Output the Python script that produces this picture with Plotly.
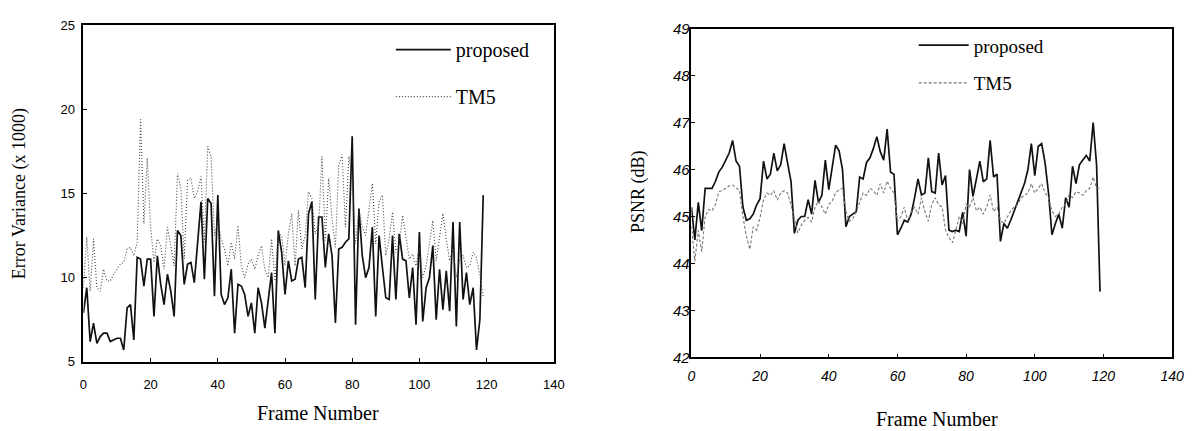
import plotly.graph_objects as go

frames = list(range(120))

# Left chart: Error Variance (x 1000)
ev_proposed = [
    7.9, 9.4, 6.2, 7.3, 6.1, 6.5, 6.7, 6.7, 6.2, 6.3,
    6.4, 6.4, 5.7, 8.2, 8.4, 6.3, 11.2, 11.1, 9.5, 11.1,
    11.1, 7.7, 11.3, 9.6, 8.4, 10.2, 9.2, 7.7, 12.8, 12.5,
    9.6, 10.8, 10.9, 9.7, 12.1, 14.5, 9.9, 14.7, 14.4, 8.9,
    14.9, 9.0, 8.4, 8.8, 10.5, 6.7, 9.6, 9.5, 9.0, 7.7,
    8.5, 6.7, 9.4, 8.5, 7.0, 8.5, 10.3, 6.7, 12.8, 11.5,
    9.0, 11.0, 9.8, 9.9, 11.1, 11.2, 9.4, 13.8, 14.5, 8.7,
    13.6, 13.6, 10.6, 12.6, 11.3, 7.3, 11.7, 11.8, 12.1, 12.3,
    18.4, 7.2, 14.1, 11.3, 10.0, 10.6, 13.0, 7.7, 12.5, 10.6,
    8.8, 8.7, 12.5, 8.7, 12.6, 11.1, 11.0, 8.8, 10.6, 7.2,
    12.7, 7.4, 9.4, 10.0, 11.9, 7.5, 10.5, 8.1, 10.4, 8.0,
    13.3, 7.1, 13.3, 8.7, 10.3, 8.4, 9.4, 5.7, 7.5, 14.9,
]
ev_tm5 = [
    9.4, 12.4, 9.2, 12.3, 9.4, 9.2, 10.5, 9.8, 9.8, 10.2,
    10.5, 10.8, 10.9, 11.7, 11.8, 11.3, 12.1, 19.4, 13.2, 17.1,
    13.0, 10.9, 12.3, 11.9, 10.5, 13.0, 11.9, 10.7, 16.2, 15.3,
    11.1, 15.8, 15.9, 14.7, 15.1, 16.0, 12.1, 17.8, 17.2, 12.5,
    13.4, 12.3, 11.7, 10.7, 12.1, 11.1, 13.1, 10.7, 10.0, 10.8,
    11.1, 10.5, 11.3, 11.9, 10.5, 10.0, 12.3, 9.8, 12.6, 12.5,
    10.7, 12.6, 13.8, 10.7, 14.0, 11.7, 12.5, 15.1, 14.7, 12.6,
    13.0, 17.2, 12.2, 15.9, 13.5, 11.8, 16.7, 17.3, 13.0, 17.2,
    16.0, 12.0, 14.0, 13.0, 12.5, 14.0, 15.6, 12.0, 14.5, 14.9,
    11.3, 12.3, 13.9, 11.5, 12.0, 13.7, 12.5, 11.1, 11.4, 10.7,
    11.8, 10.0, 10.7, 12.1, 13.4, 11.0, 12.4, 13.8, 12.3, 11.0,
    11.7, 10.0, 11.1, 11.3, 10.6, 10.7, 11.5, 11.2, 10.1, 8.9,
]

# Right chart: PSNR (dB)
psnr_proposed = [
    45.2, 44.5, 45.3, 44.7, 45.6, 45.6, 45.6, 45.75, 45.95, 46.05,
    46.2, 46.35, 46.62, 46.18, 46.07, 45.2, 44.92, 44.95, 45.05, 45.25,
    45.38, 46.18, 45.8, 45.9, 46.35, 45.97, 46.1, 46.55, 46.14, 45.75,
    44.64, 44.92, 45.0, 45.0, 45.36, 45.05, 45.77, 45.3, 45.45, 46.2,
    45.57, 46.1, 46.52, 46.4, 46.0, 44.78, 45.0, 45.05, 45.1, 45.84,
    45.8, 46.15, 46.25, 46.45, 46.7, 46.38, 46.2, 46.86, 45.94, 45.9,
    44.61, 44.75, 44.92, 44.88, 45.05, 45.4, 45.8, 45.46, 45.5, 46.25,
    45.53, 45.5, 46.35, 45.67, 45.87, 44.71, 44.68, 44.71, 44.68, 45.09,
    44.58, 46.0, 45.43, 45.8, 46.18, 45.74, 45.8, 46.62, 45.84, 45.9,
    44.47, 44.85, 44.75, 44.92, 45.12, 45.33, 45.5, 45.7, 46.0, 46.55,
    45.87, 46.49, 46.55, 46.14, 45.5, 44.61, 44.85, 45.05, 44.75, 45.4,
    45.2, 46.07, 45.7, 46.1, 46.2, 46.3, 46.18, 47.0, 46.1, 43.4,
]
psnr_tm5 = [
    44.8, 44.05, 44.7, 44.25, 45.0, 45.15, 45.12, 45.26, 45.53, 45.55,
    45.6, 45.65, 45.67, 45.6, 45.55, 45.0, 44.58, 44.3, 44.78, 44.71,
    44.98, 45.36, 45.5, 45.45, 45.55, 45.35, 45.5, 45.55, 45.5, 45.25,
    44.92, 44.65, 44.82, 44.92, 44.98, 44.88, 45.2, 45.33, 45.2, 45.05,
    45.26, 45.33, 45.5, 45.57, 45.6, 45.1, 44.9, 44.95, 45.1, 45.3,
    45.5, 45.45, 45.6, 45.55, 45.45, 45.7, 45.5, 45.75, 45.6, 45.5,
    44.9, 45.0, 45.2, 44.9, 45.1, 45.2, 45.05, 45.4, 45.1, 44.9,
    45.26, 45.4, 45.25, 45.2, 44.71, 44.55, 44.44, 44.7, 45.0, 44.85,
    45.26, 45.2, 45.4, 45.12, 45.2, 45.05, 45.2, 45.46, 45.1, 45.2,
    44.92, 44.85, 45.0, 45.12, 45.2, 45.25, 45.4, 45.45, 45.5, 45.7,
    45.5, 45.6, 45.7, 45.5, 45.4, 45.12, 45.0, 45.05, 45.2, 45.26,
    45.46, 45.4, 45.53, 45.5, 45.45, 45.55, 45.6, 45.84, 45.6, 45.6,
]

for arr in (ev_proposed, ev_tm5, psnr_proposed, psnr_tm5):
    assert len(arr) == len(frames)

x_ticks = [0, 20, 40, 60, 80, 100, 120, 140]
ev_ticks = [5, 10, 15, 20, 25]
psnr_ticks = [42, 43, 44, 45, 46, 47, 48, 49]

W, H = 1201, 431
SERIF = "Liberation Serif, Times New Roman, serif"
SANS = "Liberation Sans, Arial, sans-serif"

fig = go.Figure()

fig.add_trace(go.Scatter(x=frames, y=ev_proposed, mode="lines", name="proposed",
                         line=dict(color="#111111", width=1.7),
                         xaxis="x", yaxis="y", legend="legend", legendgroup="a"))
fig.add_trace(go.Scatter(x=frames, y=ev_tm5, mode="lines", name="TM5",
                         line=dict(color="#444444", width=1.1, dash="1px,2px"),
                         xaxis="x", yaxis="y", legend="legend", legendgroup="b"))
fig.add_trace(go.Scatter(x=frames, y=psnr_proposed, mode="lines", name="proposed",
                         line=dict(color="#111111", width=1.7),
                         xaxis="x2", yaxis="y2", legend="legend2", legendgroup="c"))
fig.add_trace(go.Scatter(x=frames, y=psnr_tm5, mode="lines", name="TM5",
                         line=dict(color="#777777", width=1.1, dash="3px,2px"),
                         xaxis="x2", yaxis="y2", legend="legend2", legendgroup="d"))

def px_x(p):
    return p / W

def px_y(p):
    return (H - p) / H

axis_common = dict(showline=True, linecolor="black", linewidth=1.5, mirror=True,
                   ticks="inside", ticklen=4, tickwidth=1.2, tickcolor="black",
                   showgrid=False, zeroline=False)

fig.update_layout(
    width=W, height=H,
    margin=dict(l=0, r=0, t=0, b=0),
    paper_bgcolor="white", plot_bgcolor="white",
    showlegend=True,
    xaxis=dict(domain=[px_x(80.5), px_x(557.2)], range=[0, 140], tickvals=x_ticks,
               tickfont=dict(family=SANS, size=13, color="black"),
               ticklabelstandoff=10, anchor="y", **axis_common),
    yaxis=dict(domain=[px_y(367.3), px_y(16.7)], range=[5, 25], tickvals=ev_ticks,
               tickfont=dict(family=SANS, size=13, color="black"),
               ticklabelstandoff=4, anchor="x", **axis_common),
    xaxis2=dict(domain=[px_x(696.7), px_x(1183.9)], range=[0, 140], tickvals=x_ticks,
                tickfont=dict(family=SANS, size=14, color="black", style="italic"),
                ticklabelstandoff=5, anchor="y2", **axis_common),
    yaxis2=dict(domain=[px_y(362.7), px_y(20.4)], range=[42, 49], tickvals=psnr_ticks,
                tickfont=dict(family=SANS, size=15, color="black", style="italic"),
                ticklabelstandoff=-3, anchor="x2", **axis_common),
    legend=dict(x=px_x(392), y=px_y(22), xanchor="left", yanchor="top",
                bgcolor="rgba(0,0,0,0)", borderwidth=0, traceorder="grouped",
                itemwidth=55, tracegroupgap=18,
                font=dict(family=SERIF, size=20, color="black")),
    legend2=dict(x=px_x(922), y=px_y(18), xanchor="left", yanchor="top",
                 bgcolor="rgba(0,0,0,0)", borderwidth=0, traceorder="grouped",
                 itemwidth=50, tracegroupgap=10,
                 font=dict(family=SERIF, size=19, color="black")),
    annotations=[
        dict(text="Error Variance (x 1000)", x=px_x(16), y=px_y(192), xref="paper", yref="paper",
             xanchor="center", yanchor="middle",
             showarrow=False, textangle=-90, font=dict(family=SERIF, size=18, color="black")),
        dict(text="Frame Number", x=px_x(318), y=px_y(421), xref="paper", yref="paper",
             xanchor="center", yanchor="middle",
             showarrow=False, font=dict(family=SERIF, size=20, color="black")),
        dict(text="PSNR (dB)", x=px_x(643), y=px_y(190), xref="paper", yref="paper",
             xanchor="center", yanchor="middle",
             showarrow=False, textangle=-90, font=dict(family=SERIF, size=18, color="black")),
        dict(text="Frame Number", x=px_x(946), y=px_y(427), xref="paper", yref="paper",
             xanchor="center", yanchor="middle",
             showarrow=False, font=dict(family=SERIF, size=20, color="black")),
    ],
)

fig.write_html("out.html")
